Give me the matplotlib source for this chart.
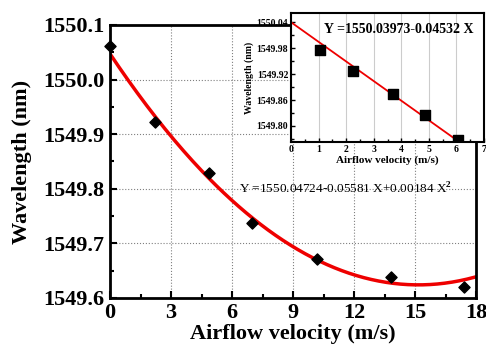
import numpy as np
import matplotlib.pyplot as plt
from matplotlib.ticker import MultipleLocator

plt.rcParams['font.family'] = 'Liberation Serif'
plt.rcParams['font.weight'] = 'bold'
plt.rcParams['mathtext.fontset'] = 'custom'
plt.rcParams['mathtext.rm'] = 'Liberation Serif'

# main measurement
speed = [0.0, 2.2, 4.85, 7.0, 10.2, 13.8, 17.4]
wavelength = [1550.062, 1549.922, 1549.829, 1549.737, 1549.671, 1549.638, 1549.620]
quad_coef = [1550.04724, -0.05581, 0.00184]

# inset (low speed)
speed_in = [1.05, 2.25, 3.7, 4.85, 6.05]
wavelength_in = [1549.976, 1549.927, 1549.874, 1549.826, 1549.768]
lin_coef = [1550.03973, -0.04532]

fig = plt.figure(figsize=(4.86, 3.48), dpi=100)
ax = fig.add_axes([110/486, 1-298/348, 366/486, 273/348])

xs = np.linspace(0, 18, 200)
ax.plot(xs, quad_coef[0] + quad_coef[1]*xs + quad_coef[2]*xs**2, color='#ee0000', lw=2.5, zorder=2)
ax.scatter(speed, wavelength, marker='D', s=32, color='black', zorder=3, clip_on=False)
ax.set_xlim(0, 18)
ax.set_ylim(1549.6, 1550.1)
ax.xaxis.set_major_locator(MultipleLocator(3))
ax.xaxis.set_minor_locator(MultipleLocator(1.5))
ax.yaxis.set_major_locator(MultipleLocator(0.1))
ax.yaxis.set_minor_locator(MultipleLocator(0.05))
ax.tick_params(which='both', direction='in', labelsize=16, width=1.5)
ax.tick_params(which='major', length=5)
ax.tick_params(which='minor', length=3)
ax.tick_params(axis='y', pad=4)
ax.yaxis.set_major_formatter(plt.FormatStrFormatter('%.1f'))
ax.grid(True, which='major', ls=':', color='gray', lw=0.8)
for s in ax.spines.values():
    s.set_linewidth(2)
ax.set_xlabel('Airflow velocity (m/s)', fontsize=16, fontweight='bold', labelpad=1)
ax.set_ylabel('Wavelength (nm)', fontsize=16, fontweight='bold', labelpad=8)
ax.text(6.35, 1549.80, 'Y =1550.04724-0.05581 X+0.00184 X$^2$', fontsize=9.5,
        fontweight='normal', va='center', ha='left', zorder=4)

# inset
ins = fig.add_axes([291/486, 1-142/348, 193/486, 129/348])
xl = np.linspace(0, 7, 50)
ins.plot(xl, lin_coef[0] + lin_coef[1]*xl, color='#ee0000', lw=1.3, zorder=2)
ins.scatter(speed_in, wavelength_in, marker='s', s=50, color='black', zorder=3)
ins.set_xlim(0, 7)
ins.set_ylim(1549.763, 1550.061)
ins.xaxis.set_major_locator(MultipleLocator(1))
ins.xaxis.set_minor_locator(MultipleLocator(0.5))
ins.set_yticks([1549.80, 1549.86, 1549.92, 1549.98, 1550.04])
ins.yaxis.set_minor_locator(MultipleLocator(0.03))
ins.yaxis.set_major_formatter(plt.FormatStrFormatter('%.2f'))
ins.tick_params(which='both', direction='in', labelsize=7, width=1, pad=2)
ins.tick_params(which='major', length=3)
ins.tick_params(which='minor', length=2)
ins.grid(True, axis='x', color='#cccccc', lw=0.8)
for s in ins.spines.values():
    s.set_linewidth(1.5)
ins.set_xlabel('Airflow velocity (m/s)', fontsize=8, fontweight='bold', labelpad=1)
ins.set_ylabel('Wavelength (nm)', fontsize=7, fontweight='bold', labelpad=2)
ins.text(1.2, 1550.022, 'Y =1550.03973-0.04532 X', fontsize=10, fontweight='bold', va='center')

fig.savefig('out.png', dpi=100)
